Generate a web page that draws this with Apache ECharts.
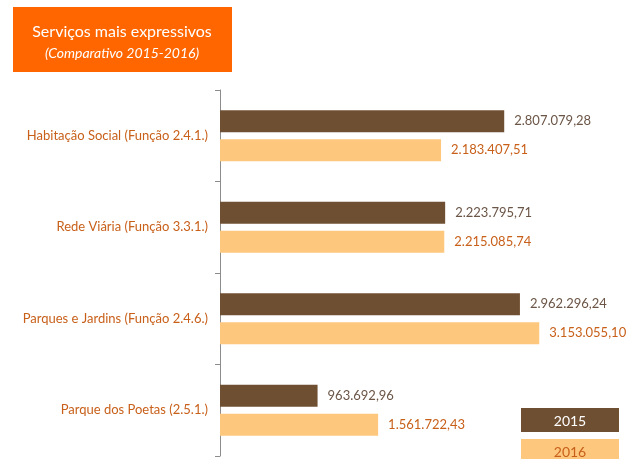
<!DOCTYPE html>
<html>
<head>
<meta charset="utf-8">
<script src="https://cdn.jsdelivr.net/npm/echarts@6/dist/echarts.min.js"></script>
<style>
  html, body { margin: 0; padding: 0; background: #fff; }
  #main { width: 632px; height: 459px; }
</style>
</head>
<body>
<div id="main"></div>
<script>
// data
const categories = [
  'Habitação Social (Função 2.4.1.)',
  'Rede Viária (Função 3.3.1.)',
  'Parques e Jardins (Função 2.4.6.)',
  'Parque dos Poetas (2.5.1.)'
]
const values2015 = [2807079.28, 2223795.71, 2962296.24, 963692.96]
const values2016 = [2183407.51, 2215085.74, 3153055.10, 1561722.43]
const seriesNames = ['2015', '2016']
const titleText = 'Serviços mais expressivos'
const subtitleText = '(Comparativo 2015-2016)'

const FONT = 'Lato'
const brown = '#6F4F32'
const light = '#FEC77E'
const orange = '#C8601A'

// 2807079.28 -> 2.807.079,28
function fmt (v) {
  const parts = v.toFixed(2).split('.')
  const int = parts[0].replace(/\B(?=(\d{3})+(?!\d))/g, '.')
  return int + ',' + parts[1]
}

// legend drawn as filled boxes with the year inside
function legendBox (name, y, fill, textColor) {
  return {
    type: 'group',
    children: [
      { type: 'rect', shape: { x: 521, y: y, width: 98, height: 24 }, style: { fill: fill } },
      {
        type: 'text',
        x: 570,
        y: y + 13,
        style: {
          text: name,
          fill: textColor,
          font: '14px ' + FONT,
          textAlign: 'center',
          textVerticalAlign: 'middle'
        }
      }
    ]
  }
}

const dom = document.getElementById('main')
const myChart = echarts.init(dom)

const option = {
  animation: false,
  textStyle: { fontFamily: FONT },
  graphic: [
    {
      type: 'rect',
      shape: { x: 13, y: 7, width: 219, height: 65 },
      style: { fill: '#FF6600' }
    },
    {
      type: 'text',
      x: 122,
      y: 32,
      style: {
        text: titleText,
        fill: '#fff',
        font: '16px ' + FONT,
        textAlign: 'center',
        textVerticalAlign: 'middle'
      }
    },
    {
      type: 'text',
      x: 122,
      y: 53,
      style: {
        text: subtitleText,
        fill: '#fff',
        font: 'italic 14px ' + FONT,
        textAlign: 'center',
        textVerticalAlign: 'middle'
      }
    },
    legendBox(seriesNames[0], 408, brown, '#fff'),
    legendBox(seriesNames[1], 439, light, orange)
  ],
  grid: {
    left: 220,
    right: 7,
    top: 90,
    bottom: 3,
    containLabel: false
  },
  xAxis: {
    type: 'value',
    min: 0,
    max: 4000000,
    show: false
  },
  yAxis: {
    type: 'category',
    inverse: true,
    data: categories,
    axisLine: { lineStyle: { color: '#8C8C8C', width: 1 } },
    axisTick: { show: true, length: 5, lineStyle: { color: '#8C8C8C' } },
    axisLabel: { color: orange, fontSize: 13, margin: 12, fontFamily: FONT },
    splitLine: { show: false }
  },
  series: [
    {
      name: seriesNames[0],
      type: 'bar',
      data: values2015,
      barWidth: 22,
      barGap: '32%',
      itemStyle: { color: brown },
      label: {
        show: true,
        position: 'right',
        distance: 10,
        color: '#6B5546',
        fontSize: 13,
        fontFamily: FONT,
        formatter: p => fmt(p.value)
      }
    },
    {
      name: seriesNames[1],
      type: 'bar',
      data: values2016,
      barWidth: 22,
      itemStyle: { color: light },
      label: {
        show: true,
        position: 'right',
        distance: 10,
        color: orange,
        fontSize: 13,
        fontFamily: FONT,
        formatter: p => fmt(p.value)
      }
    }
  ]
}

myChart.setOption(option)
</script>
</body>
</html>
